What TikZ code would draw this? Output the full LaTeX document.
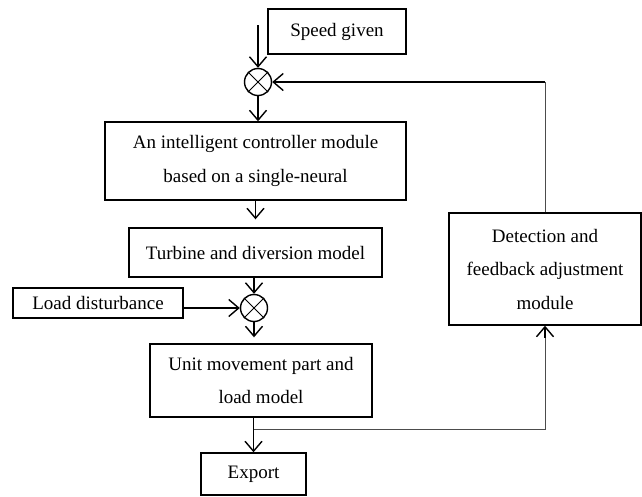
\documentclass[tikz,border=0pt]{standalone}
\usepackage{fontspec}
\setmainfont{Liberation Serif}
\usetikzlibrary{arrows.meta}
\tikzset{
  block/.style={draw, line width=1.4pt, align=center, inner sep=0pt, font=\fontsize{19}{33.5}\selectfont},
  summer/.style={draw, circle, line width=1.4pt, minimum size=27pt, inner sep=0pt},
  arr/.style={-{Straight Barb[length=10pt,width=17pt,line width=1.4pt]}, line width=1.4pt},
  fb/.style={line width=0.8pt, color=black!70}
}
\begin{document}
\begin{tikzpicture}[x=1pt,y=-1pt]
\useasboundingbox (0,0) rectangle (642,496);

\node[block, minimum width=138pt, minimum height=45pt] (speed) at (337,31.5) {Speed given};
\node[summer] (sum1) at (258,82) {};
\node[block, minimum width=301pt, minimum height=78pt] (ctrl) at (255.5,161) {An intelligent controller module\\based on a single-neural};
\node[block, minimum width=253pt, minimum height=49pt] (turb) at (255.5,252.5) {Turbine and diversion model};
\node[block, minimum width=170pt, minimum height=30pt] (load) at (98,303) {Load disturbance};
\node[summer] (sum2) at (254,308) {};
\node[block, minimum width=222pt, minimum height=73pt] (unit) at (261,380.5) {Unit movement part and\\load model};
\node[block, minimum width=105pt, minimum height=42pt] (export) at (253.5,474) {Export};
\node[block, minimum width=192pt, minimum height=112pt] (detect) at (545,269) {Detection and\\feedback adjustment\\module};

\draw[line width=1pt] (sum1.north west) -- (sum1.south east) (sum1.north east) -- (sum1.south west);
\draw[line width=1pt] (sum2.north west) -- (sum2.south east) (sum2.north east) -- (sum2.south west);

\coordinate (in) at (258,25);
\coordinate (branch) at (253.5,429);

\draw[arr] (in) -- (sum1);
\draw[arr] (sum1) -- (sum1 |- ctrl.north);
\draw[arr, shorten >=8pt] (ctrl) -- (turb);
\draw[arr] (turb.south -| sum2) -- (sum2);
\draw[arr] (load.east |- sum2) -- (sum2);
\draw[arr, shorten >=6pt] (sum2) -- (sum2 |- unit.north);
\draw[arr] (export |- unit.south) -- (export);

\draw[fb] (branch) -| ([yshift=-12pt]detect.south);
\draw[arr] ([yshift=-12pt]detect.south) -- (detect.south);
\draw[fb] (detect.north) -- (detect.north |- sum1);
\draw[arr] (detect.north |- sum1) -- (sum1);
\end{tikzpicture}
\end{document}
